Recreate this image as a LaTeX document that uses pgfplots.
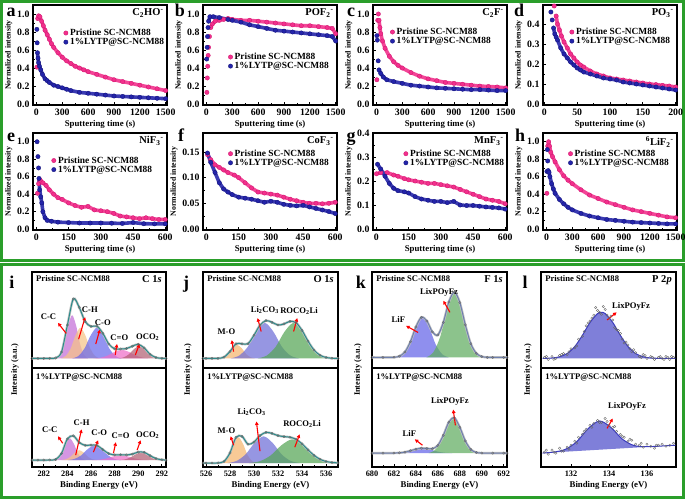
\documentclass[border=0pt]{standalone}
\usepackage{fontspec}
\setmainfont{Liberation Serif}
\usepackage{pgfplots}
\usepackage{pgfplotstable}
\pgfplotsset{compat=1.18}
\usetikzlibrary{arrows.meta}

\definecolor{pk}{RGB}{242,48,140}
\definecolor{pkd}{RGB}{205,20,110}
\definecolor{bl}{RGB}{36,36,170}
\definecolor{bld}{RGB}{18,18,115}
\definecolor{frm}{RGB}{42,158,42}
\definecolor{fitc}{RGB}{42,140,140}
\definecolor{fitk}{RGB}{110,128,175}
\definecolor{fitl}{RGB}{60,60,190}
\definecolor{cCC}{RGB}{195,110,215}
\definecolor{cCH}{RGB}{245,195,135}
\definecolor{cCO}{RGB}{105,105,235}
\definecolor{cCdO}{RGB}{238,110,200}
\definecolor{cOCO}{RGB}{178,95,115}
\definecolor{cMO}{RGB}{245,182,110}
\definecolor{cLi}{RGB}{110,110,215}
\definecolor{cRO}{RGB}{85,165,85}
\definecolor{cLiF}{RGB}{100,100,232}
\definecolor{cLP}{RGB}{95,172,95}
\definecolor{cP}{RGB}{105,105,210}

\newcommand{\fs}[1]{\fontsize{#1}{#1}\selectfont}

\pgfplotsset{
  tof/.style={
    scale only axis, width=134pt,
    axis line style={line width=1.1pt},
    tick align=inside, xtick pos=bottom, ytick pos=left,
    minor x tick num=1, minor y tick num=1,
    major tick length=3pt, minor tick length=1.7pt,
    every tick/.append style={black, line width=0.8pt},
    tick label style={font=\bfseries\fs{9.8}},
    /pgf/number format/assume math mode=true,
    /pgf/number format/1000 sep={},
    xlabel={Sputtering time (s)}, ylabel={Normalized intensity},
    xlabel style={font=\bfseries\fs{8.8}, yshift=2pt},
    ylabel style={font=\bfseries\fs{7.8}, yshift=-2pt},
    legend style={draw=none, fill=none, anchor=west, font=\bfseries\fs{9.4},
      row sep=-2.8pt, inner sep=1pt},
    legend cell align=left,
  },
  y1/.style={yticklabel style={/pgf/number format/.cd, fixed, fixed zerofill, precision=1}},
  y2/.style={yticklabel style={/pgf/number format/.cd, fixed, fixed zerofill, precision=2}},
  pband/.style={draw=pk!90, line width=3.6pt, line join=round, line cap=round, no marks, forget plot},
  bband/.style={draw=bl!90, line width=3.6pt, line join=round, line cap=round, no marks, forget plot},
  pmark/.style={only marks, mark=*, mark size=2.2pt, mark options={fill=pk, draw=pkd, line width=0.3pt}},
  bmark/.style={only marks, mark=*, mark size=2.2pt, mark options={fill=bl, draw=bld, line width=0.3pt}},
  xpsb/.style={scale only axis, axis line style={line width=1.1pt}, ytick=\empty, ymin=0, ymax=1},
  xpst/.style={xpsb, height=96pt, xtick=\empty},
  xpsl/.style={xpsb, height=99pt, tick align=inside, xtick pos=bottom, minor x tick num=1,
    major tick length=3pt, minor tick length=1.7pt,
    every tick/.append style={black, line width=0.8pt},
    tick label style={font=\bfseries\fs{8.3}},
    /pgf/number format/assume math mode=true, /pgf/number format/1000 sep={},
    xlabel={Binding Energy (eV)}, xlabel style={font=\bfseries\fs{8.8}, yshift=2pt}},
  comp/.style={draw=none, fill opacity=0.72, smooth},
  rawb/.style={draw=gray!50, line width=2.4pt, smooth, no marks},
  rawm/.style={only marks, mark=o, mark size=1.2pt, mark options={draw=gray!80!black, line width=0.35pt}},
  fitl/.style={line width=1pt, smooth, no marks},
}
\tikzset{
  ra/.style={red, line width=1.1pt, -{Triangle[length=3.5pt,width=3.5pt]}},
  lab/.style={font=\bfseries\fs{8.6}, inner sep=0pt},
  spec/.style={font=\bfseries\fs{10.5}, anchor=north east, inner sep=0pt},
  plet/.style={font=\bfseries\fs{18}, anchor=base, inner sep=0pt},
}

% ---------- ToF-SIMS depth profiles ----------
\pgfplotstableread{
x y
5 0.41
15 0.95
25 0.98
40 0.97
60 0.92
80 0.87
100 0.82
125 0.77
150 0.72
175 0.67
200 0.63
250 0.57
300 0.52
350 0.48
400 0.45
450 0.42
500 0.40
550 0.38
600 0.36
700 0.33
800 0.30
900 0.27
1000 0.25
1100 0.23
1200 0.21
1300 0.19
1400 0.17
1500 0.15
}\tAP
\pgfplotstableread{
x y
5 0.83
8 0.68
12 0.57
18 0.51
25 0.46
35 0.42
50 0.38
70 0.33
100 0.28
125 0.26
150 0.24
200 0.21
250 0.195
300 0.18
350 0.165
400 0.15
500 0.13
600 0.12
700 0.11
800 0.10
900 0.09
1000 0.085
1100 0.08
1200 0.075
1300 0.07
1400 0.065
1500 0.06
}\tAB
\pgfplotstableread{
x y
5 0.13
10 0.29
15 0.42
20 0.54
25 0.63
35 0.75
50 0.85
70 0.89
100 0.92
150 0.93
200 0.94
250 0.95
300 0.94
400 0.93
500 0.93
600 0.92
700 0.91
800 0.90
900 0.89
1000 0.88
1100 0.87
1200 0.87
1300 0.86
1400 0.85
1460 0.84
1500 0.78
}\tBP
\pgfplotstableread{
x y
3 0.50
8 0.63
12 0.75
18 0.85
25 0.92
40 0.97
80 0.97
150 0.96
250 0.94
300 0.93
400 0.91
500 0.88
600 0.86
700 0.84
800 0.82
900 0.81
1000 0.80
1100 0.79
1200 0.78
1300 0.77
1400 0.76
1460 0.75
1500 0.70
}\tBB
\pgfplotstableread{
x y
5 0.27
15 0.93
22 1.00
30 0.93
40 0.85
50 0.78
70 0.70
100 0.62
150 0.53
200 0.47
250 0.43
300 0.40
400 0.35
500 0.31
600 0.28
700 0.26
800 0.24
900 0.23
1000 0.22
1100 0.21
1200 0.20
1300 0.195
1400 0.19
1500 0.18
}\tCP
\pgfplotstableread{
x y
5 0.76
10 0.71
20 0.48
30 0.38
50 0.34
80 0.30
120 0.27
200 0.25
300 0.23
400 0.21
500 0.20
600 0.19
700 0.18
800 0.175
900 0.17
1000 0.165
1100 0.16
1200 0.16
1300 0.155
1400 0.15
1500 0.15
}\tCB
\pgfplotstableread{
x y
15 0.49
18 0.44
20 0.40
23 0.37
26 0.34
30 0.31
35 0.28
40 0.25
45 0.23
50 0.21
55 0.195
60 0.185
70 0.165
80 0.15
90 0.14
100 0.13
110 0.125
120 0.12
130 0.115
140 0.11
150 0.105
160 0.10
170 0.097
180 0.093
190 0.09
200 0.085
}\tDP
\pgfplotstableread{
x y
10 0.46
12 0.42
14 0.38
16 0.35
18 0.335
20 0.32
25 0.28
30 0.25
35 0.23
40 0.21
45 0.195
50 0.18
55 0.17
60 0.16
70 0.15
80 0.14
90 0.13
100 0.125
110 0.12
120 0.11
130 0.105
140 0.10
150 0.095
160 0.09
170 0.085
180 0.08
190 0.075
200 0.07
}\tDB
\pgfplotstableread{
x y
5 0.41
10 0.52
15 0.57
20 0.55
30 0.53
45 0.50
60 0.45
80 0.40
100 0.36
120 0.34
150 0.30
180 0.27
210 0.25
240 0.26
270 0.22
300 0.21
330 0.20
360 0.18
390 0.15
420 0.14
450 0.13
480 0.12
510 0.13
540 0.12
570 0.11
600 0.11
}\tEP
\pgfplotstableread{
x y
3 1.0
7 0.83
10 0.70
12 0.58
15 0.45
20 0.37
25 0.30
30 0.20
40 0.13
50 0.10
70 0.09
100 0.08
150 0.075
200 0.07
250 0.07
300 0.07
350 0.068
400 0.065
450 0.075
500 0.062
550 0.06
600 0.06
}\tEB
\pgfplotstableread{
x y
5 0.145
20 0.135
40 0.125
60 0.12
80 0.115
100 0.11
130 0.105
150 0.10
180 0.09
210 0.08
240 0.072
270 0.07
300 0.068
330 0.066
360 0.062
390 0.058
420 0.055
450 0.052
480 0.05
510 0.05
540 0.049
570 0.05
600 0.052
}\tFP
\pgfplotstableread{
x y
5 0.148
20 0.13
40 0.11
60 0.09
80 0.078
100 0.072
120 0.067
150 0.062
180 0.06
210 0.058
240 0.055
270 0.052
300 0.054
330 0.052
360 0.048
390 0.046
420 0.045
450 0.046
480 0.043
510 0.04
540 0.037
570 0.034
600 0.03
}\tFB
\pgfplotstableread{
x y
0 0.23
20 0.235
50 0.235
80 0.225
100 0.22
130 0.21
150 0.205
180 0.20
210 0.195
240 0.19
270 0.19
300 0.185
330 0.18
360 0.175
390 0.165
420 0.155
450 0.145
480 0.135
510 0.125
540 0.12
570 0.115
600 0.105
}\tGP
\pgfplotstableread{
x y
5 0.27
20 0.25
40 0.22
60 0.19
80 0.17
100 0.16
130 0.155
150 0.15
180 0.135
210 0.125
240 0.12
270 0.115
300 0.115
330 0.11
360 0.115
390 0.10
420 0.098
450 0.098
480 0.095
510 0.092
540 0.09
570 0.088
600 0.083
}\tGB
\pgfplotstableread{
x y
5 0.41
15 0.95
25 1.0
35 0.95
50 0.88
70 0.83
100 0.77
150 0.68
200 0.61
250 0.56
300 0.52
400 0.45
500 0.39
600 0.35
700 0.31
800 0.28
900 0.25
1000 0.22
1100 0.20
1200 0.18
1300 0.16
1400 0.14
1500 0.13
}\tHP
\pgfplotstableread{
x y
5 0.66
10 0.91
15 0.78
20 0.67
30 0.65
40 0.60
60 0.52
80 0.46
100 0.41
150 0.34
200 0.29
250 0.25
300 0.22
400 0.18
500 0.15
600 0.13
700 0.11
800 0.10
900 0.09
1000 0.08
1100 0.075
1200 0.07
1300 0.065
1400 0.06
1500 0.06
}\tHB

% ---------- XPS envelopes ----------
\pgfplotstableread{
x y
281 0.10
281.5 0.10
282 0.10
282.5 0.101
283 0.104
283.5 0.166
284 0.447
284.5 0.72
285 0.632
285.5 0.484
286 0.433
286.5 0.436
287 0.361
287.5 0.25
288 0.20
288.5 0.198
289 0.203
289.5 0.227
290 0.247
290.5 0.209
291 0.143
291.5 0.109
292 0.101
292.35 0.10
}\tIT
\pgfplotstableread{
x y
281 0.07
281.5 0.07
282 0.07
282.5 0.071
283 0.076
283.5 0.137
284 0.284
284.5 0.315
285 0.248
285.5 0.219
286 0.222
286.5 0.218
287 0.176
287.5 0.135
288 0.1225
288.5 0.124
289 0.122
289.5 0.130
290 0.151
290.5 0.148
291 0.115
291.5 0.085
292 0.073
292.35 0.07
}\tIB
\pgfplotstableread{
x y
525.75 0.10
526 0.10
526.5 0.10
527 0.101
527.5 0.113
528 0.172
528.5 0.252
529 0.252
529.5 0.253
530 0.341
530.5 0.446
531 0.494
531.5 0.476
532 0.448
532.5 0.459
533 0.486
533.5 0.472
534 0.392
534.5 0.280
535 0.187
535.5 0.133
536 0.110
536.5 0.102
537 0.10
}\tJT
\pgfplotstableread{
x y
525.75 0.04
526 0.04
526.5 0.04
527 0.041
527.5 0.056
528 0.143
528.5 0.299
529 0.31
529.5 0.230
530 0.252
530.5 0.317
531 0.35
531.5 0.339
532 0.317
532.5 0.307
533 0.301
533.5 0.28
534 0.234
534.5 0.173
535 0.118
535.5 0.078
536 0.056
536.5 0.0455
537 0.042
}\tJB
\pgfplotstableread{
x y
680 0.11
681 0.11
682 0.112
682.5 0.123
683 0.167
683.5 0.273
684 0.427
684.5 0.528
685 0.49
685.5 0.376
686 0.344
686.5 0.475
687 0.687
687.5 0.79
688 0.682
688.5 0.45
689 0.253
689.5 0.153
690 0.119
690.5 0.111
691 0.11
692 0.11
692.3 0.11
}\tKT
\pgfplotstableread{
x y
680 0.14
681 0.14
682 0.141
682.5 0.143
683 0.150
683.5 0.164
684 0.18
684.5 0.19
685 0.187
685.5 0.185
686 0.218
686.5 0.32
687 0.453
687.5 0.497
688 0.401
688.5 0.263
689 0.177
689.5 0.147
690 0.141
691 0.14
692 0.14
692.3 0.14
}\tKB
\pgfplotstableread{
x y
130.5 0.10
131.0 0.104
131.4 0.117
131.8 0.151
132.2 0.224
132.6 0.340
133.0 0.474
133.4 0.567
133.6 0.58
133.8 0.567
134.2 0.474
134.6 0.340
135.0 0.224
135.4 0.151
135.8 0.117
136.2 0.104
136.6 0.101
137.0 0.10
137.5 0.10
}\tLTf
\pgfplotstableread{
x y
130.6 0.11
130.7 0.12
130.8 0.09
131.0 0.12
131.1 0.09
131.2 0.10
131.4 0.13
131.5 0.14
131.6 0.15
131.8 0.14
131.9 0.17
132.0 0.20
132.2 0.21
132.3 0.23
132.4 0.30
132.6 0.33
132.7 0.38
132.8 0.44
132.9 0.47
133.0 0.49
133.1 0.52
133.2 0.55
133.3 0.63
133.4 0.60
133.5 0.58
133.6 0.56
133.7 0.64
133.8 0.61
133.9 0.55
134.0 0.52
134.1 0.54
134.2 0.50
134.3 0.42
134.4 0.40
134.5 0.39
134.6 0.36
134.7 0.30
134.8 0.26
134.9 0.27
135.0 0.24
135.1 0.20
135.2 0.17
135.3 0.19
135.4 0.16
135.6 0.12
135.7 0.11
135.8 0.14
135.9 0.13
136.0 0.10
136.2 0.12
136.3 0.11
136.4 0.09
136.6 0.11
136.7 0.12
136.8 0.10
136.9 0.09
137.0 0.12
137.1 0.11
137.2 0.09
137.3 0.12
137.4 0.11
}\tLTr
\pgfplotstableread{
x y
130.5 0.141
131.1 0.151
131.7 0.178
132.3 0.255
132.9 0.387
133.5 0.465
134.1 0.400
134.7 0.282
135.3 0.218
135.9 0.205
136.5 0.209
137.5 0.22
}\tLBf
\pgfplotstableread{
x y
130.6 0.15
130.7 0.17
130.8 0.13
131.0 0.17
131.1 0.15
131.2 0.14
131.4 0.19
131.5 0.16
131.6 0.16
131.8 0.20
131.9 0.18
132.0 0.22
132.2 0.26
132.3 0.24
132.4 0.30
132.6 0.33
132.7 0.36
132.8 0.38
133.0 0.42
133.1 0.40
133.2 0.44
133.4 0.47
133.5 0.45
133.6 0.45
133.8 0.49
133.9 0.46
134.0 0.42
134.2 0.40
134.3 0.41
134.4 0.36
134.6 0.33
134.7 0.31
134.8 0.30
135.0 0.26
135.1 0.28
135.2 0.27
135.4 0.23
135.6 0.22
135.7 0.24
135.8 0.20
136.0 0.23
136.2 0.21
136.4 0.19
136.5 0.22
136.6 0.22
136.8 0.23
137.0 0.21
137.2 0.22
137.4 0.24
}\tLBr

\begin{document}
\begin{tikzpicture}
\useasboundingbox (0pt,0pt) rectangle (685pt,499pt);
\draw[frm, line width=3pt] (1.5pt,238.5pt) rectangle (683.5pt,497.5pt);
\draw[frm, line width=3pt] (1.5pt,1.5pt) rectangle (683.5pt,234.5pt);

% ---- a ----
\begin{axis}[tof, y1, at={(33pt,394pt)}, anchor=south west, height=100pt,
  xmin=-40, xmax=1515, ymin=-0.01, ymax=1.1,
  xtick={0,300,...,1500}, ytick={0,0.2,0.4,0.6,0.8,1.0},
  legend style={at={(0.22,0.675)}}]
\addplot[pband, skip coords between index={0}{1}] table {\tAP};
\addplot[pmark] table {\tAP}; \addlegendentry{Pristine SC-NCM88}
\addplot[bband, skip coords between index={0}{2}] table {\tAB};
\addplot[bmark] table {\tAB}; \addlegendentry{1\%LYTP@SC-NCM88}
\node[spec] at (rel axis cs:0.975,0.965) {C\textsubscript{2}HO\textsuperscript{-}};
\end{axis}
% ---- b ----
\begin{axis}[tof, y1, at={(203pt,394pt)}, anchor=south west, height=100pt,
  xmin=-40, xmax=1515, ymin=-0.01, ymax=1.1,
  xtick={0,300,...,1500}, ytick={0,0.2,0.4,0.6,0.8,1.0},
  legend style={at={(0.18,0.435)}}]
\addplot[pband, skip coords between index={0}{6}] table {\tBP};
\addplot[pmark] table {\tBP}; \addlegendentry{Pristine SC-NCM88}
\addplot[bband, skip coords between index={0}{4}] table {\tBB};
\addplot[bmark] table {\tBB}; \addlegendentry{1\%LYTP@SC-NCM88}
\node[spec] at (rel axis cs:0.975,0.965) {POF\textsubscript{2}\textsuperscript{-}};
\end{axis}
% ---- c ----
\begin{axis}[tof, y1, at={(373pt,394pt)}, anchor=south west, height=100pt,
  xmin=-40, xmax=1515, ymin=-0.01, ymax=1.1,
  xtick={0,300,...,1500}, ytick={0,0.2,0.4,0.6,0.8,1.0},
  legend style={at={(0.12,0.685)}}]
\addplot[pband, skip coords between index={0}{3}] table {\tCP};
\addplot[pmark] table {\tCP}; \addlegendentry{Pristine SC-NCM88}
\addplot[bband, skip coords between index={0}{3}] table {\tCB};
\addplot[bmark] table {\tCB}; \addlegendentry{1\%LYTP@SC-NCM88}
\node[spec] at (rel axis cs:0.975,0.965) {C\textsubscript{2}F\textsuperscript{-}};
\end{axis}
% ---- d ----
\begin{axis}[tof, y1, at={(543pt,394pt)}, anchor=south west, height=100pt,
  xmin=-2, xmax=202, ymin=-0.005, ymax=0.495,
  xtick={0,50,...,200}, ytick={0,0.1,0.2,0.3,0.4},
  legend style={at={(0.19,0.685)}}]
\addplot[pband, skip coords between index={0}{1}] table {\tDP};
\addplot[pmark] table {\tDP}; \addlegendentry{Pristine SC-NCM88}
\addplot[bband, skip coords between index={0}{2}] table {\tDB};
\addplot[bmark] table {\tDB}; \addlegendentry{1\%LYTP@SC-NCM88}
\node[spec] at (rel axis cs:0.975,0.965) {PO\textsubscript{3}\textsuperscript{-}};
\end{axis}
% ---- e ----
\begin{axis}[tof, y1, at={(33pt,269pt)}, anchor=south west, height=97pt,
  xmin=-16, xmax=608, ymin=-0.01, ymax=1.1,
  xtick={0,150,...,600}, ytick={0,0.2,0.4,0.6,0.8,1.0},
  legend style={at={(0.13,0.67)}}]
\addplot[pband, skip coords between index={0}{1}] table {\tEP};
\addplot[pmark] table {\tEP}; \addlegendentry{Pristine SC-NCM88}
\addplot[bband, skip coords between index={0}{3}] table {\tEB};
\addplot[bmark] table {\tEB}; \addlegendentry{1\%LYTP@SC-NCM88}
\node[spec] at (rel axis cs:0.975,0.965) {NiF\textsubscript{3}\textsuperscript{-}};
\end{axis}
% ---- f ----
\begin{axis}[tof, y2, at={(203pt,269pt)}, anchor=south west, height=97pt,
  xmin=-16, xmax=608, ymin=-0.002, ymax=0.187,
  xtick={0,150,...,600}, ytick={0,0.05,0.10,0.15},
  legend style={at={(0.18,0.74)}}]
\addplot[pband] table {\tFP};
\addplot[pmark] table {\tFP}; \addlegendentry{Pristine SC-NCM88}
\addplot[bband] table {\tFB};
\addplot[bmark] table {\tFB}; \addlegendentry{1\%LYTP@SC-NCM88}
\node[spec] at (rel axis cs:0.975,0.965) {CoF\textsubscript{3}\textsuperscript{-}};
\end{axis}
% ---- g ----
\begin{axis}[tof, y1, at={(373pt,269pt)}, anchor=south west, height=97pt,
  xmin=-16, xmax=608, ymin=-0.004, ymax=0.4,
  xtick={0,150,...,600}, ytick={0,0.1,0.2,0.3,0.4},
  legend style={at={(0.22,0.74)}}]
\addplot[pband] table {\tGP};
\addplot[pmark] table {\tGP}; \addlegendentry{Pristine SC-NCM88}
\addplot[bband] table {\tGB};
\addplot[bmark] table {\tGB}; \addlegendentry{1\%LYTP@SC-NCM88}
\node[spec] at (rel axis cs:0.975,0.965) {MnF\textsubscript{3}\textsuperscript{-}};
\end{axis}
% ---- h ----
\begin{axis}[tof, y1, at={(543pt,269pt)}, anchor=south west, height=97pt,
  xmin=-40, xmax=1515, ymin=-0.01, ymax=1.1,
  xtick={0,300,...,1500}, ytick={0,0.2,0.4,0.6,0.8,1.0},
  legend style={at={(0.18,0.74)}}]
\addplot[pband, skip coords between index={0}{1}] table {\tHP};
\addplot[pmark] table {\tHP}; \addlegendentry{Pristine SC-NCM88}
\addplot[bband, skip coords between index={0}{3}] table {\tHB};
\addplot[bmark] table {\tHB}; \addlegendentry{1\%LYTP@SC-NCM88}
\node[spec] at (rel axis cs:0.975,0.965) {\textsuperscript{6}LiF\textsubscript{2}\textsuperscript{-}};
\end{axis}

% ---- i : C 1s ----
\begin{axis}[xpst, at={(32pt,131pt)}, anchor=south west, width=134pt, xmin=281, xmax=292.35]
\addplot[comp, fill=cCC] coordinates {(283.05,0.10) (283.39,0.136) (283.73,0.246) (284.06,0.440) (284.4,0.55) (284.74,0.440) (285.08,0.246) (285.41,0.136) (285.75,0.10)} -- cycle;
\addplot[comp, fill=cCH] coordinates {(283.45,0.10) (283.86,0.125) (284.28,0.204) (284.69,0.342) (285.1,0.42) (285.51,0.342) (285.93,0.204) (286.34,0.125) (286.75,0.10)} -- cycle;
\addplot[comp, fill=cCO] coordinates {(284.4,0.10) (284.93,0.125) (285.45,0.204) (285.98,0.342) (286.5,0.42) (287.03,0.342) (287.55,0.204) (288.08,0.125) (288.6,0.10)} -- cycle;
\addplot[comp, fill=cCdO] coordinates {(286.2,0.10) (286.8,0.107) (287.4,0.129) (288.0,0.168) (288.6,0.19) (289.2,0.168) (289.8,0.129) (290.4,0.107) (291.0,0.10)} -- cycle;
\addplot[comp, fill=cOCO] coordinates {(288.3,0.10) (288.75,0.110) (289.2,0.142) (289.65,0.198) (290.1,0.23) (290.55,0.198) (291.0,0.142) (291.45,0.110) (291.9,0.10)} -- cycle;
\addplot[rawb] table {\tIT};
\addplot[rawm] table {\tIT};
\addplot[fitl, draw=fitc] table {\tIT};
\node[lab, anchor=west] at (rel axis cs:0.03,0.93) {Pristine SC-NCM88};
\node[spec] at (rel axis cs:0.97,0.97) {C 1\textit{s}};
\draw[ra] (axis cs:283.9,0.36) -- (axis cs:283.2,0.47);
\node[lab] at (axis cs:282.4,0.53) {C-C};
\draw[ra] (axis cs:284.95,0.30) -- (axis cs:285.5,0.53);
\node[lab] at (axis cs:285.9,0.61) {C-H};
\draw[ra] (axis cs:286.4,0.25) -- (axis cs:286.75,0.40);
\node[lab] at (axis cs:287.0,0.47) {C-O};
\draw[ra] (axis cs:288.05,0.135) -- (axis cs:288.2,0.25);
\node[lab] at (axis cs:288.4,0.32) {C=O};
\draw[ra] (axis cs:289.75,0.135) -- (axis cs:290.1,0.25);
\node[lab] at (axis cs:290.8,0.32) {OCO\textsubscript{2}};
\end{axis}
\begin{axis}[xpsl, at={(32pt,32pt)}, anchor=south west, width=134pt, xmin=281, xmax=292.35,
  xtick={282,284,...,292}]
\addplot[comp, fill=cCC] coordinates {(282.85,0.07) (283.19,0.0875) (283.53,0.141) (283.86,0.236) (284.2,0.29) (284.54,0.236) (284.88,0.141) (285.21,0.0875) (285.55,0.07)} -- cycle;
\addplot[comp, fill=cCH] coordinates {(283.5,0.07) (283.88,0.078) (284.25,0.102) (284.63,0.145) (285.0,0.17) (285.38,0.145) (285.75,0.102) (286.13,0.078) (286.5,0.07)} -- cycle;
\addplot[comp, fill=cCO] coordinates {(284.05,0.07) (284.61,0.082) (285.18,0.119) (285.74,0.183) (286.3,0.22) (286.86,0.183) (287.43,0.119) (287.99,0.082) (288.55,0.07)} -- cycle;
\addplot[comp, fill=cCdO] coordinates {(286.1,0.07) (286.7,0.074) (287.3,0.086) (287.9,0.108) (288.5,0.12) (289.1,0.108) (289.7,0.086) (290.3,0.074) (290.9,0.07)} -- cycle;
\addplot[comp, fill=cOCO] coordinates {(288.35,0.07) (288.84,0.076) (289.33,0.096) (289.81,0.130) (290.3,0.15) (290.79,0.130) (291.28,0.096) (291.76,0.076) (292.25,0.07)} -- cycle;
\addplot[rawb] table {\tIB};
\addplot[rawm] table {\tIB};
\addplot[fitl, draw=fitc] table {\tIB};
\node[lab, anchor=west] at (rel axis cs:0.03,0.90) {1\%LYTP@SC-NCM88};
\draw[ra] (axis cs:283.6,0.24) -- (axis cs:283.2,0.31);
\node[lab] at (axis cs:282.5,0.38) {C-C};
\draw[ra] (axis cs:284.7,0.12) -- (axis cs:285.2,0.38);
\node[lab] at (axis cs:285.2,0.45) {C-H};
\draw[ra] (axis cs:286.2,0.15) -- (axis cs:286.6,0.27);
\node[lab] at (axis cs:286.7,0.35) {C-O};
\draw[ra] (axis cs:287.9,0.14) -- (axis cs:288.1,0.25);
\node[lab] at (axis cs:288.5,0.32) {C=O};
\draw[ra] (axis cs:289.9,0.17) -- (axis cs:290.2,0.27);
\node[lab] at (axis cs:290.8,0.32) {OCO\textsubscript{2}};
\end{axis}

% ---- j : O 1s ----
\begin{axis}[xpst, at={(203pt,131pt)}, anchor=south west, width=135pt, xmin=525.75, xmax=537]
\addplot[comp, fill=cMO] coordinates {(527.1,0.10) (527.48,0.111) (527.85,0.145) (528.23,0.206) (528.6,0.24) (528.98,0.206) (529.35,0.145) (529.73,0.111) (530.1,0.10)} -- cycle;
\addplot[comp, fill=cLi] coordinates {(528.05,0.10) (528.76,0.129) (529.48,0.220) (530.19,0.379) (530.9,0.47) (531.61,0.379) (532.33,0.220) (533.04,0.129) (533.75,0.10)} -- cycle;
\addplot[comp, fill=cRO] coordinates {(530.3,0.10) (531.05,0.129) (531.8,0.220) (532.55,0.379) (533.3,0.47) (534.05,0.379) (534.8,0.220) (535.55,0.129) (536.3,0.10)} -- cycle;
\addplot[rawb] table {\tJT};
\addplot[rawm] table {\tJT};
\addplot[fitl, draw=fitc] table {\tJT};
\node[lab, anchor=west] at (rel axis cs:0.03,0.93) {Pristine SC-NCM88};
\node[spec] at (rel axis cs:0.97,0.97) {O 1\textit{s}};
\draw[ra] (axis cs:528.3,0.17) -- (axis cs:528.15,0.29);
\node[lab] at (axis cs:527.7,0.375) {M-O};
\draw[ra] (axis cs:530.6,0.38) -- (axis cs:530.3,0.52);
\node[lab] at (axis cs:530.9,0.60) {Li\textsubscript{2}CO\textsubscript{3}};
\draw[ra] (axis cs:533.3,0.38) -- (axis cs:533.6,0.52);
\node[lab] at (axis cs:533.75,0.59) {ROCO\textsubscript{2}Li};
\end{axis}
\begin{axis}[xpsl, at={(203pt,32pt)}, anchor=south west, width=135pt, xmin=525.75, xmax=537,
  xtick={526,528,...,536}]
\addplot[comp, fill=cMO] coordinates {(527.2,0.04) (527.58,0.061) (527.95,0.124) (528.33,0.236) (528.7,0.30) (529.08,0.236) (529.45,0.124) (529.83,0.061) (530.2,0.04)} -- cycle;
\addplot[comp, fill=cLi] coordinates {(527.8,0.04) (528.55,0.0615) (529.3,0.128) (530.05,0.244) (530.8,0.31) (531.55,0.244) (532.3,0.128) (533.05,0.0615) (533.8,0.04)} -- cycle;
\addplot[comp, fill=cRO] coordinates {(529.6,0.04) (530.5,0.059) (531.4,0.118) (532.3,0.221) (533.2,0.28) (534.1,0.221) (535.0,0.118) (535.9,0.059) (536.8,0.04)} -- cycle;
\addplot[rawb] table {\tJB};
\addplot[rawm] table {\tJB};
\addplot[fitl, draw=fitc] table {\tJB};
\node[lab, anchor=west] at (rel axis cs:0.03,0.90) {1\%LYTP@SC-NCM88};
\draw[ra] (axis cs:528.3,0.22) -- (axis cs:528.05,0.31);
\node[lab] at (axis cs:527.7,0.37) {M-O};
\draw[ra] (axis cs:530.5,0.16) -- (axis cs:530.2,0.46);
\node[lab] at (axis cs:529.8,0.56) {Li\textsubscript{2}CO\textsubscript{3}};
\draw[ra] (axis cs:533.4,0.20) -- (axis cs:533.8,0.33);
\node[lab] at (axis cs:534.0,0.43) {ROCO\textsubscript{2}Li};
\end{axis}

% ---- k : F 1s ----
\begin{axis}[xpst, at={(372pt,131pt)}, anchor=south west, width=135pt, xmin=680, xmax=692.3]
\addplot[comp, fill=cLiF] coordinates {(682.2,0.11) (682.8,0.143) (683.4,0.246) (684.0,0.427) (684.6,0.53) (685.2,0.427) (685.8,0.246) (686.4,0.143) (687.0,0.11)} -- cycle;
\addplot[comp, fill=cLP] coordinates {(684.95,0.11) (685.59,0.164) (686.23,0.331) (686.86,0.623) (687.5,0.79) (688.14,0.623) (688.78,0.331) (689.41,0.164) (690.05,0.11)} -- cycle;
\addplot[rawb] table {\tKT};
\addplot[rawm] table {\tKT};
\addplot[fitl, draw=fitk] table {\tKT};
\node[lab, anchor=west] at (rel axis cs:0.03,0.93) {Pristine SC-NCM88};
\node[spec] at (rel axis cs:0.97,0.97) {F 1\textit{s}};
\draw[ra] (axis cs:687.1,0.58) -- (axis cs:686.5,0.70);
\node[lab] at (axis cs:686.1,0.79) {LixPOyFz};
\draw[ra] (axis cs:684.2,0.37) -- (axis cs:683.1,0.44);
\node[lab] at (axis cs:682.4,0.51) {LiF};
\end{axis}
\begin{axis}[xpsl, at={(372pt,32pt)}, anchor=south west, width=135pt, xmin=680, xmax=692.3,
  xtick={680,682,...,692}]
\addplot[comp, fill=cLiF] coordinates {(681.9,0.14) (682.58,0.144) (683.25,0.156) (683.93,0.178) (684.6,0.19) (685.28,0.178) (685.95,0.156) (686.63,0.144) (687.3,0.14)} -- cycle;
\addplot[comp, fill=cLP] coordinates {(685.15,0.14) (685.71,0.169) (686.28,0.257) (686.84,0.412) (687.4,0.50) (687.96,0.412) (688.53,0.257) (689.09,0.169) (689.65,0.14)} -- cycle;
\addplot[rawb] table {\tKB};
\addplot[rawm] table {\tKB};
\addplot[fitl, draw=fitk] table {\tKB};
\node[lab, anchor=west] at (rel axis cs:0.03,0.90) {1\%LYTP@SC-NCM88};
\draw[ra] (axis cs:687.6,0.42) -- (axis cs:687.4,0.58);
\node[lab] at (axis cs:687.1,0.66) {LixPOyFz};
\draw[ra] (axis cs:684.6,0.22) -- (axis cs:683.9,0.28);
\node[lab] at (axis cs:683.4,0.34) {LiF};
\end{axis}

% ---- l : P 2p ----
\begin{axis}[xpst, at={(541pt,131pt)}, anchor=south west, width=135pt, xmin=130.42, xmax=137.53]
\addplot[comp, fill=cP, fill opacity=0.85] table {\tLTf} -- cycle;
\addplot[rawm] table {\tLTr};
\addplot[fitl, draw=fitl] table {\tLTf};
\node[lab, anchor=west] at (rel axis cs:0.03,0.93) {Pristine SC-NCM88};
\node[spec] at (rel axis cs:0.97,0.97) {P 2\textit{p}};
\draw[ra] (axis cs:133.9,0.50) -- (axis cs:134.4,0.58);
\node[lab] at (axis cs:135.16,0.64) {LixPOyFz};
\end{axis}
\begin{axis}[xpsl, at={(541pt,32pt)}, anchor=south west, width=135pt, xmin=130.42, xmax=137.53,
  xtick={132,134,136}]
\addplot[comp, fill=cP, fill opacity=0.85] table {\tLBf} -- cycle;
\addplot[rawm] table {\tLBr};
\addplot[fitl, draw=fitl] table {\tLBf};
\node[lab, anchor=west] at (rel axis cs:0.03,0.90) {1\%LYTP@SC-NCM88};
\draw[ra] (axis cs:133.9,0.39) -- (axis cs:134.2,0.49);
\node[lab] at (axis cs:134.95,0.61) {LixPOyFz};
\end{axis}

% y labels of the XPS panels
\foreach \xx in {15,188,358,528}
  \node[rotate=90, font=\bfseries\fs{8.3}] at (\xx pt,129pt) {Intensity (a.u.)};

% panel letters
\node[plet] at (11pt,482pt) {a};
\node[plet] at (180pt,482pt) {b};
\node[plet] at (351pt,482pt) {c};
\node[plet] at (519pt,482pt) {d};
\node[plet] at (11pt,357pt) {e};
\node[plet] at (181pt,357pt) {f};
\node[plet] at (351pt,357pt) {g};
\node[plet] at (520pt,357pt) {h};
\node[plet] at (12pt,211pt) {i};
\node[plet] at (186pt,211pt) {j};
\node[plet] at (361pt,211pt) {k};
\node[plet] at (525pt,211pt) {l};
\end{tikzpicture}
\end{document}
